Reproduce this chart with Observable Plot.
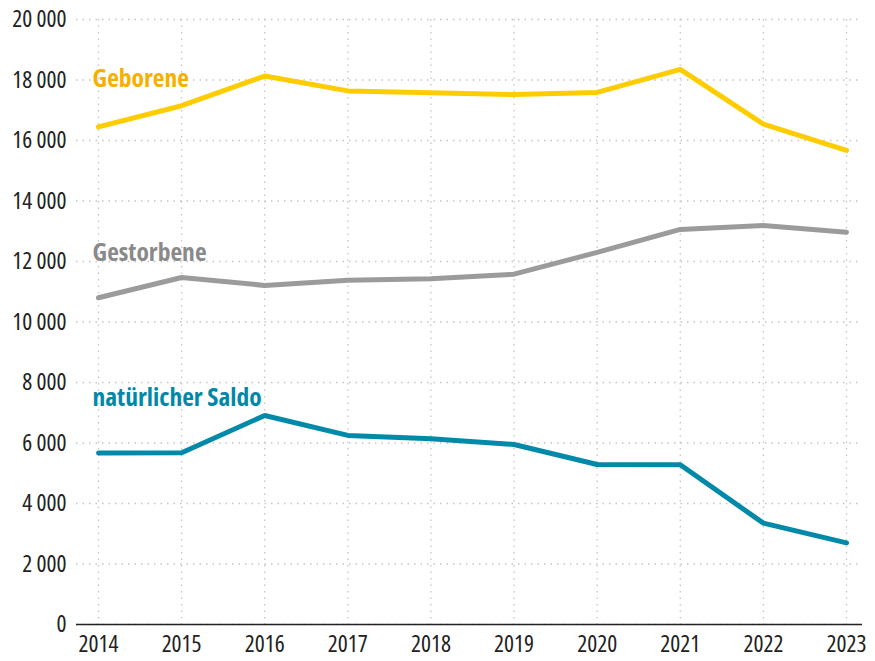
<!DOCTYPE html>
<html>
<head>
<meta charset="utf-8">
<script src="https://cdn.jsdelivr.net/npm/d3@7"></script>
<script src="https://cdn.jsdelivr.net/npm/@observablehq/plot@0.6"></script>
<style>
  html, body { margin: 0; padding: 0; background: #fff; }
  #chart svg { display: block; }
  #chart svg, #chart svg text { font-stretch: condensed; }
</style>
</head>
<body>
<div id="chart"></div>
<script>
const years = [2014, 2015, 2016, 2017, 2018, 2019, 2020, 2021, 2022, 2023];
const geborene = [16450, 17150, 18130, 17640, 17580, 17520, 17590, 18350, 16540, 15670];
const gestorbene = [10800, 11470, 11210, 11380, 11430, 11580, 12300, 13060, 13190, 12970];
const saldo = [5670, 5680, 6910, 6250, 6140, 5950, 5290, 5280, 3350, 2700];
const seriesNames = ["Geborene", "Gestorbene", "natürlicher Saldo"];
const lineColors = ["#ffcc00", "#9b9b9b", "#0089a8"];
const labelColors = ["#f5b000", "#8a8a8a", "#0088a8"];
const labelY = [18050, 12300, 7500];
const yTicks = [0, 2000, 4000, 6000, 8000, 10000, 12000, 14000, 16000, 18000, 20000];

const seriesValues = [geborene, gestorbene, saldo];
const rows = seriesNames.flatMap((s, i) => years.map((y, j) => ({series: s, year: y, value: seriesValues[i][j]})));
const labels = seriesNames.map((s, i) => ({series: s, year: years[0], value: labelY[i], color: labelColors[i]}));

const fmt = d3.formatLocale({decimal: ",", thousands: " ", grouping: [3], currency: ["", " €"]}).format(",d");
const FONT = "'Open Sans', 'DejaVu Sans', sans-serif";

const chart = Plot.plot({
  width: 875,
  height: 661,
  marginLeft: 76,
  marginRight: 13,
  marginTop: 19,
  marginBottom: 37,
  style: {fontFamily: FONT, fontSize: "23px", color: "#222", background: "#fff", fontStretch: "condensed"},
  x: {domain: [2014, 2023], insetLeft: 22, insetRight: 16, label: null},
  y: {domain: [0, 20000], label: null},
  color: {domain: seriesNames, range: lineColors},
  marks: [
    Plot.gridY(yTicks, {stroke: "#c4c4c4", strokeOpacity: 1, strokeWidth: 1.3, strokeDasharray: "1.5,5", x1: 2014, x2: 2023, insetLeft: -22, insetRight: -13}),
    Plot.gridX(years, {stroke: "#c4c4c4", strokeOpacity: 1, strokeWidth: 1.3, strokeDasharray: "1.5,5"}),
    Plot.axisY(yTicks, {tickSize: 0, tickPadding: 10, tickFormat: fmt, fontSize: 23.5, fontWeight: 400, fill: "#222"}),
    Plot.axisX(years, {tickSize: 0, tickPadding: 11, tickFormat: d => String(d), fontSize: 23.5, fontWeight: 400, fill: "#222"}),
    Plot.ruleY([0], {stroke: "#222", strokeWidth: 1.5}),
    Plot.line(rows, {x: "year", y: "value", z: "series", stroke: "series", strokeWidth: 5, strokeLinecap: "round", strokeLinejoin: "miter"}),
    Plot.text(labels, {x: "year", y: "value", text: "series", fill: "color", textAnchor: "start", dx: -6, fontWeight: 700, fontSize: 25.5})
  ]
});
document.getElementById("chart").appendChild(chart);
</script>
</body>
</html>
